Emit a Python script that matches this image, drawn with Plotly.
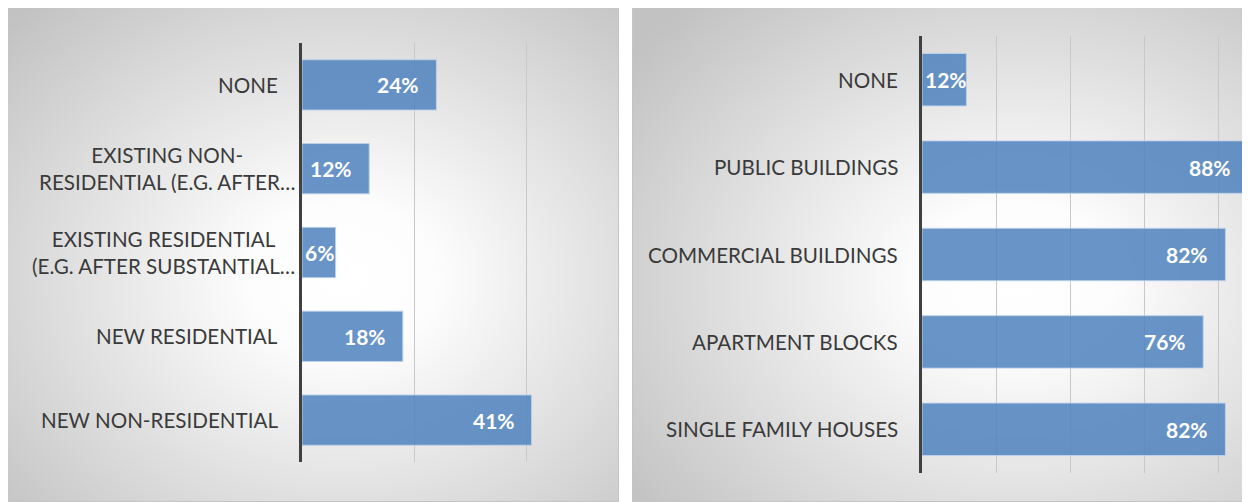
import base64
import plotly.graph_objects as go

# survey answers
left_categories = [
    "NONE",
    "EXISTING NON-<br>RESIDENTIAL (E.G. AFTER…",
    "EXISTING RESIDENTIAL<br>(E.G. AFTER SUBSTANTIAL…",
    "NEW RESIDENTIAL",
    "NEW NON-RESIDENTIAL",
]
left_values = [0.24, 0.12, 0.06, 0.18, 0.41]

right_categories = [
    "NONE",
    "PUBLIC BUILDINGS",
    "COMMERCIAL BUILDINGS",
    "APARTMENT BLOCKS",
    "SINGLE FAMILY HOUSES",
]
right_values = [0.12, 0.88, 0.82, 0.76, 0.82]

# the page body has an 8px margin, so the figure starts at (8, 8) in the window
OFF = 8
W, H = 1250 - OFF, 502 - OFF
BAR_COLOR = "rgba(79,129,189,0.85)"
BAR_EDGE = "rgba(190,210,235,0.9)"
TEXT_COLOR = "#3a3a3a"
FONT = "Lato, 'Open Sans', sans-serif"


def px_x(x):
    return (x - OFF) / W


def px_y(y):
    return 1 - (y - OFF) / H


def gradient_panel(width, height, cx, cy, r):
    """Radial grey gradient like the Excel chart area, as an svg data uri."""
    svg = (
        f"<svg xmlns='http://www.w3.org/2000/svg' width='{width}' height='{height}' "
        f"viewBox='0 0 {width} {height}' preserveAspectRatio='none'>"
        f"<defs><radialGradient id='g' cx='{cx}' cy='{cy}' r='{r}'>"
        "<stop offset='0' stop-color='#ffffff'/>"
        "<stop offset='0.2' stop-color='#fdfdfd'/>"
        "<stop offset='1' stop-color='#c2c2c2'/>"
        "</radialGradient></defs>"
        f"<rect width='{width}' height='{height}' fill='url(#g)'/>"
        f"<rect x='0.5' y='0.5' width='{width - 1}' height='{height - 1}' "
        "fill='none' stroke='#c4c4c4' stroke-width='1'/>"
        "</svg>"
    )
    return "data:image/svg+xml;base64," + base64.b64encode(svg.encode()).decode()


fig = go.Figure()

panels = [
    dict(cats=left_categories, vals=left_values, xa="x", ya="y", scale=560),
    dict(cats=right_categories, vals=right_values, xa="x2", ya="y2", scale=370),
]

annotations = []
for p in panels:
    fig.add_trace(go.Bar(
        x=p["vals"],
        y=p["cats"],
        orientation="h",
        width=0.6,
        marker=dict(color=BAR_COLOR, line=dict(color=BAR_EDGE, width=1)),
        xaxis=p["xa"],
        yaxis=p["ya"],
        hoverinfo="skip",
        showlegend=False,
    ))

    # category labels, centred lines like Excel does for wrapped labels
    for cat in p["cats"]:
        annotations.append(dict(
            x=0, y=cat,
            xref=f"{p['xa']} domain", yref=p["ya"],
            text=cat, showarrow=False,
            xanchor="right", align="center",
            xshift=-5 if "<br>" in cat else -22,
            font=dict(family=FONT, size=20.6, color=TEXT_COLOR),
        ))

    # value labels at the inside end of each bar
    for cat, v in zip(p["cats"], p["vals"]):
        small = v * p["scale"] < 50
        annotations.append(dict(
            x=0 if small else v, y=cat,
            xref=p["xa"], yref=p["ya"],
            text=f"{round(v * 100)}%", showarrow=False,
            xanchor="left" if small else "right",
            xshift=1 if small else -15,
            font=dict(family=FONT, size=21, color="white", weight="bold"),
        ))

axis_x = dict(
    showgrid=True, gridcolor="#c8c8c8", gridwidth=1,
    showticklabels=False, ticks="", zeroline=False, showline=False,
    fixedrange=True,
)
axis_y = dict(
    showgrid=False, showticklabels=False, ticks="",
    showline=True, linecolor="#404040", linewidth=3,
    autorange="reversed", fixedrange=True,
)

fig.update_layout(
    width=W, height=H,
    margin=dict(l=0, r=0, t=0, b=0),
    paper_bgcolor="white",
    plot_bgcolor="rgba(0,0,0,0)",
    bargap=0.4,
    xaxis=dict(axis_x, domain=[px_x(302), px_x(302 + 0.45 * 560)],
               range=[0, 0.45], tickvals=[0.2, 0.4]),
    yaxis=dict(axis_y, domain=[px_y(462), px_y(43)], anchor="x"),
    xaxis2=dict(axis_x, domain=[px_x(922), 1.0],
                range=[0, 328 / 370], tickvals=[0.2, 0.4, 0.6, 0.8]),
    yaxis2=dict(axis_y, domain=[px_y(473), px_y(36)], anchor="x2"),
    annotations=annotations,
    images=[
        dict(source=gradient_panel(612, 496, 0.55, 0.55, 0.75),
             xref="paper", yref="paper", x=px_x(7), y=px_y(6),
             sizex=612 / W, sizey=496 / H, xanchor="left", yanchor="top",
             sizing="stretch", layer="below"),
        dict(source=gradient_panel(640, 496, 0.6, 0.55, 0.75),
             xref="paper", yref="paper", x=px_x(632), y=px_y(6),
             sizex=640 / W, sizey=496 / H, xanchor="left", yanchor="top",
             sizing="stretch", layer="below"),
    ],
)

fig.write_html("out.html")
